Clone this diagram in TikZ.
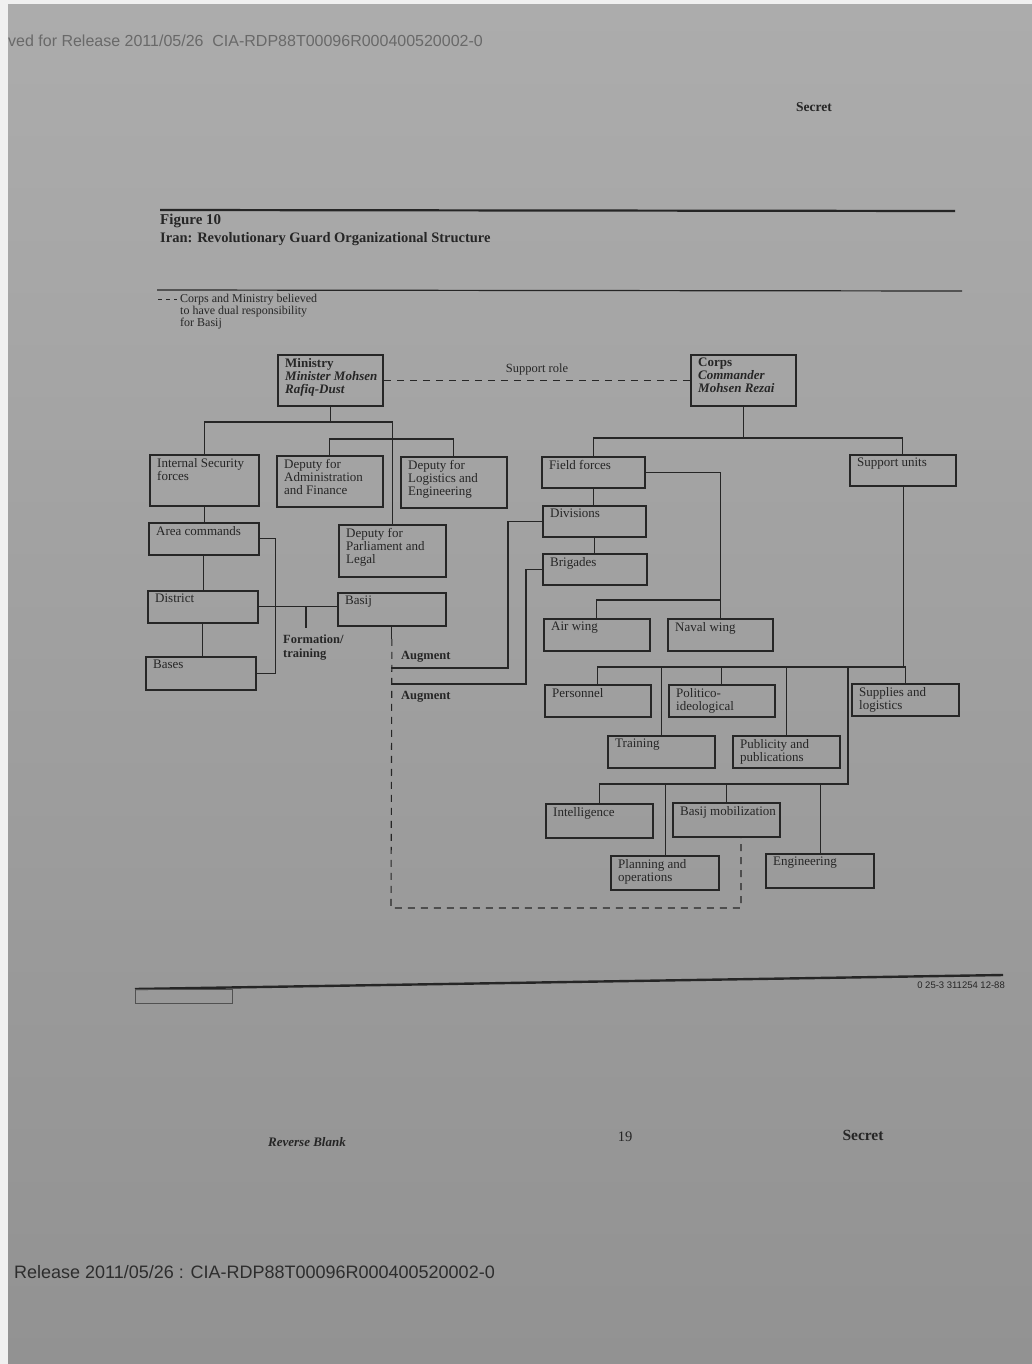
\documentclass[tikz,border=0pt]{standalone}
\usepackage{fontspec}
\setmainfont{Liberation Serif}
\newfontfamily\stampfont{Liberation Sans}
\usetikzlibrary{calc}
\definecolor{bgtop}{RGB}{172,172,172}
\definecolor{bgbot}{RGB}{146,146,146}
\definecolor{ink}{RGB}{38,38,38}
\definecolor{stampgray}{RGB}{105,105,105}
\definecolor{stampdark}{RGB}{45,45,45}
\newcommand{\orgbox}[6]{%
  \node[obox, minimum width=#4pt, minimum height=#5pt] (#1) at (#2,#3) {};
  \node[otext] (#1-t) at ({#2+8},{#3+4}) {#6};}
\begin{document}
\begin{tikzpicture}[x=1pt,y=-1pt,
  obox/.style={draw=ink, line width=1.8pt, inner sep=0pt, anchor=north west},
  otext/.style={text=ink, font=\fontsize{13}{13}\selectfont, inner sep=0pt, anchor=north west, align=left},
  conn/.style={draw=ink, line width=1.1pt},
  thinconn/.style={draw=ink, line width=0.7pt},
  dashconn/.style={draw=ink, line width=1.1pt, dash pattern=on 7pt off 6pt},
  plain/.style={text=ink, inner sep=0pt}]
\useasboundingbox (0,0) rectangle (1032,1364);
\fill[gray!12] (0,0) rectangle (1032,1364);
\shade[top color=bgtop, bottom color=bgbot] (8,5) rectangle (1032,1364);

% stamps
\node[plain, text=stampgray, anchor=west, font=\stampfont\fontsize{16}{18}\selectfont] (stamptop) at (8,41) {ved for Release 2011/05/26\ \ CIA-RDP88T00096R000400520002-0};
\node[plain, text=stampdark, anchor=west, font=\stampfont\fontsize{18}{20}\selectfont] (stampbot) at (14,1272) {Release 2011/05/26 : CIA-RDP88T00096R000400520002-0};
\node[plain, font=\bfseries\fontsize{13.5}{15}\selectfont] (sectop) at (814,107) {Secret};

% title block
\draw[ink, line width=2.2pt] (160,210) -- (955,211);
\node[plain, anchor=base west, font=\bfseries\fontsize{15}{17}\selectfont] (fig) at (160,225) {Figure 10};
\node[plain, anchor=base west, font=\bfseries\fontsize{14.5}{17}\selectfont] (title) at (160,243) {Iran: Revolutionary Guard Organizational Structure};
\draw[ink, line width=1.2pt] (157,290) -- (962,291);
\draw[ink, line width=0.8pt, dash pattern=on 4pt off 4pt] (158,299) -- (177,299);
\node[plain, anchor=north west, align=left, font=\fontsize{12}{12}\selectfont] (legend) at (180,294) {Corps and Ministry believed\\to have dual responsibility\\for Basij};

% boxes
\orgbox{min}{277}{354}{105}{51}{\textbf{Ministry}\\\textbf{\textit{Minister Mohsen}}\\\textbf{\textit{Rafiq-Dust}}}
\orgbox{corps}{690}{354}{105}{51}{\textbf{Corps}\\\textbf{\textit{Commander}}\\\textbf{\textit{Mohsen Rezai}}}
\orgbox{is}{149}{454}{109}{51}{Internal Security\\forces}
\orgbox{adm}{276}{455}{106}{51}{Deputy for\\Administration\\and Finance}
\orgbox{log}{400}{456}{106}{51}{Deputy for\\Logistics and\\Engineering}
\orgbox{parl}{338}{524}{107}{52}{Deputy for\\Parliament and\\Legal}
\orgbox{area}{148}{522}{110}{32}{Area commands}
\orgbox{dist}{147}{590}{110}{32}{District}
\orgbox{bases}{145}{656}{110}{33}{Bases}
\orgbox{basij}{337}{592}{108}{33}{Basij}
\orgbox{ff}{541}{456}{103}{31}{Field forces}
\orgbox{su}{849}{454}{106}{31}{Support units}
\orgbox{div}{542}{505}{103}{31}{Divisions}
\orgbox{brig}{542}{553}{104}{31}{Brigades}
\orgbox{air}{543}{618}{106}{32}{Air wing}
\orgbox{naval}{667}{618}{105}{32}{Naval wing}
\orgbox{pers}{544}{684}{106}{32}{Personnel}
\orgbox{pol}{668}{684}{106}{32}{Politico-\\ideological}
\orgbox{supp}{851}{683}{107}{32}{Supplies and\\logistics}
\orgbox{train}{607}{735}{107}{32}{Training}
\orgbox{pub}{732}{735}{107}{32}{Publicity and\\publications}
\orgbox{intel}{545}{803}{107}{34}{Intelligence}
\orgbox{bmob}{672}{802}{107}{34}{Basij mobilization}
\orgbox{plan}{610}{855}{108}{34}{Planning and\\operations}
\orgbox{eng}{765}{853}{108}{34}{Engineering}

% support role
\draw[dashconn] (min.east) -- (corps.west);
\node[plain, font=\fontsize{12.5}{14}\selectfont] (suprole) at (537,369) {Support role};

% ministry side
\coordinate (mbar) at (0,422);
\coordinate (dbar) at (0,439);
\draw[conn] (min.south) -- (min.south |- mbar);
\draw[conn] (is.north) |- (parl.north |- mbar) -- (parl.north);
\draw[conn] (adm.north) |- (log.north |- dbar) -- (log.north);
\draw[conn] (is.south) -- (is.south |- area.north);
\draw[conn] (area.south) -- (area.south |- dist.north);
\draw[conn] (dist.south) -- (dist.south |- bases.north);
\draw[conn] (area.east) -- ++(16,0) |- (bases.east);
\draw[conn] (dist.east) -- (dist.east -| basij.west);
\coordinate (ftick) at (306,606);
\draw[conn] (ftick) -- ++(0,22);
\node[plain, anchor=north west, align=left, font=\bfseries\fontsize{12.5}{14}\selectfont] (form) at (283,635) {Formation/\\training};

% basij dashed link
\coordinate (dL) at (391,908);
\coordinate (dR) at (741,908);
\draw[conn] (basij.south) -- ++(0,12);
\draw[dashconn] (basij.south) ++(0,12) -- (dL) -- (dR) -- (dR |- bmob.south);

% augment
\coordinate (aug1) at (391,668);
\coordinate (aug2) at (391,684);
\draw[conn] (div.west) -- ++(-34,0) |- (aug1);
\draw[conn] (brig.west) -- ++(-16,0) |- (aug2);
\node[plain, anchor=west, font=\bfseries\fontsize{12.5}{14}\selectfont] (augA) at (401,657) {Augment};
\node[plain, anchor=west, font=\bfseries\fontsize{12.5}{14}\selectfont] (augB) at (401,697) {Augment};

% corps side
\coordinate (cbar) at (0,438);
\draw[conn] (corps.south) -- (corps.south |- cbar);
\draw[conn] (ff.north) |- (su.north |- cbar) -- (su.north);
\draw[conn] (ff.south) -- (ff.south |- div.north);
\draw[conn] (div.south) -- (div.south |- brig.north);
\coordinate (abar) at (0,600);
\draw[thinconn] (ff.east) -| (naval.north);
\draw[conn] (air.north) |- (naval.north |- abar);

% support units
\coordinate (sbar) at (0,667);
\coordinate (rbar) at (848,667);
\coordinate (lbar) at (0,784);
\draw[thinconn] (su.south) -- (su.south |- sbar);
\draw[conn] (pers.north) |- (supp.north |- sbar) -- (supp.north);
\draw[thinconn] (train.north) -- (train.north |- sbar);
\draw[conn] (pol.north) -- (pol.north |- sbar);
\draw[thinconn] (pub.north) -- (pub.north |- sbar);
\draw[conn] (rbar) -- (rbar |- lbar) -- (intel.north |- lbar) -- (intel.north);
\draw[thinconn] (plan.north) -- (plan.north |- lbar);
\draw[conn] (bmob.north) -- (bmob.north |- lbar);
\draw[thinconn] (eng.north) -- (eng.north |- lbar);

% bottom rule and footer
\draw[ink, line width=2.4pt] (135,989) -- (1003,975);
\draw[ink!80, line width=0.8pt] (135,989) rectangle (232,1003);
\node[plain, anchor=east, font=\stampfont\fontsize{9.5}{10}\selectfont] (code) at (1005,985) {0 25-3 311254 12-88};
\node[plain, font=\bfseries\itshape\fontsize{13}{15}\selectfont] (revblank) at (307,1142) {Reverse Blank};
\node[plain, font=\fontsize{14.5}{16}\selectfont] (pageno) at (625,1137) {19};
\node[plain, font=\bfseries\fontsize{15.5}{17}\selectfont] (secbot) at (863,1135) {Secret};
\end{tikzpicture}
\end{document}
